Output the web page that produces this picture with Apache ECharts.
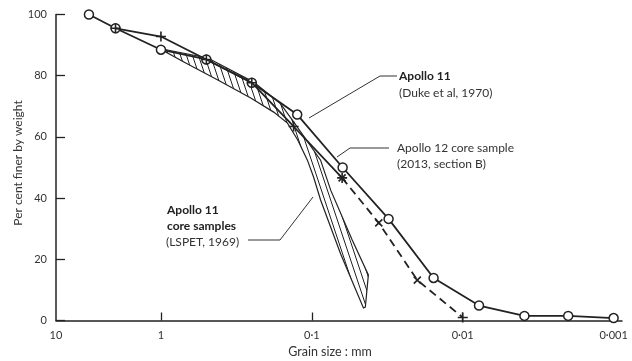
<!DOCTYPE html>
<html><head><meta charset="utf-8">
<script src="https://cdn.jsdelivr.net/npm/echarts@6/dist/echarts.min.js"></script>
<style>html,body{margin:0;background:#fff}#c{width:632px;height:361px}</style>
</head><body><div id="c"></div>
<script>
// Apollo 11 (Duke et al, 1970)
const apollo11Size = [3, 2, 1, 0.5, 0.25, 0.125, 0.0625, 0.031, 0.0156, 0.0078, 0.0039, 0.002, 0.001];
const apollo11Pct  = [100, 95.5, 88.5, 85.3, 77.7, 67.3, 50.0, 33.2, 13.9, 4.9, 1.5, 1.5, 0.8];
// Apollo 12 core sample (2013, section B) - solid part and dashed part
const apollo12SolidSize = [2, 1, 0.5, 0.25, 0.132, 0.063];
const apollo12SolidPct  = [95.5, 92.8, 85.3, 77.7, 63.4, 46.6];
const apollo12DashSize  = [0.063, 0.036, 0.02, 0.01];
const apollo12DashPct   = [46.6, 31.9, 13.2, 1.0];
// Apollo 11 core samples (LSPET, 1969) - hatched band (upper edge, then lower edge back)
const bandUpperSize = [1.0, 0.489, 0.243, 0.161, 0.132, 0.0875, 0.075, 0.054, 0.0422, 0.0442];
const bandUpperPct  = [88.8, 85.8, 77.9, 70.8, 64.9, 52.4, 42.6, 26.3, 14.9, 4.4];
const bandLowerSize = [0.0455, 0.0645, 0.0875, 0.0974, 0.107, 0.124, 0.145, 0.179, 0.254, 0.42, 0.705, 1.0];
const bandLowerPct  = [4.1, 21.8, 39.4, 46.9, 52.4, 59.0, 64.5, 68.1, 72.7, 78.6, 84.5, 88.6];
// axis ticks
const xTickValues = [4.96, 1, 0.1, 0.01, 0.001];
const xTickLabels = ['10', '1', '0·1', '0·01', '0·001'];

const FONT = 'Lato, "Open Sans", sans-serif';
const INK = '#222';
const TXT = '#333';

function pairs(a, b) { return a.map((v, i) => [v, b[i]]); }

// hatch pattern
const pc = document.createElement('canvas');
pc.width = 6; pc.height = 18;
const g = pc.getContext('2d');
g.strokeStyle = '#222'; g.lineWidth = 1;
for (let k = -1; k <= 1; k++) { g.beginPath(); g.moveTo(k * 6, 0); g.lineTo(k * 6 + 6, 18); g.stroke(); }

const plusPath = 'path://M4.2,0h1.6v10h-1.6zM0,4.2h10v1.6h-10z';

const chart = echarts.init(document.getElementById('c'));
chart.setOption({
  animation: false,
  backgroundColor: '#fff',
  textStyle: { fontFamily: FONT },
  grid: { left: 56, right: 10, top: 14.5, bottom: 40.5, containLabel: false, outerBoundsMode: 'none' },
  xAxis: {
    type: 'log', logBase: 10, inverse: true, min: 0.00088, max: 4.96,
    axisLine: { lineStyle: { color: INK, width: 1.5 } },
    splitLine: { show: false },
    minorTick: { show: false },
    axisTick: { inside: true, length: 8, customValues: [1, 0.1, 0.01], lineStyle: { color: INK, width: 1.3 } },
    axisLabel: {
      customValues: xTickValues, color: TXT, fontSize: 11, fontFamily: FONT, margin: 9,
      formatter: function (v) {
        for (let k = 0; k < xTickValues.length; k++) {
          if (Math.abs(Math.log10(v) - Math.log10(xTickValues[k])) < 0.01) return xTickLabels[k];
        }
        return '';
      }
    }
  },
  yAxis: {
    type: 'value', min: 0, max: 100, interval: 20,
    axisLine: { show: true, lineStyle: { color: INK, width: 1.5 } },
    splitLine: { show: false },
    axisTick: { show: true, inside: true, length: 9, lineStyle: { color: INK, width: 1.3 } },
    axisLabel: { color: TXT, fontSize: 11, fontFamily: FONT, margin: 9 }
  },
  graphic: [
    { type: 'text', x: 18, y: 163, rotation: Math.PI / 2, style: { text: 'Per cent finer by weight', fill: TXT, font: '12px ' + FONT, align: 'center', verticalAlign: 'middle' } },
    { type: 'text', x: 330, y: 352, style: { text: 'Grain size : mm', fill: TXT, font: '12.5px ' + FONT, align: 'center', verticalAlign: 'middle' } },
    { type: 'text', x: 399, y: 76, style: { text: 'Apollo 11', fill: '#222', font: 'bold 12px ' + FONT, align: 'left', verticalAlign: 'middle' } },
    { type: 'text', x: 399, y: 93, style: { text: '(Duke et al, 1970)', fill: TXT, font: '12px ' + FONT, align: 'left', verticalAlign: 'middle' } },
    { type: 'polyline', shape: { points: [[309, 118], [380, 76], [397, 76]] }, style: { stroke: '#333', lineWidth: 1, fill: null } },
    { type: 'text', x: 397, y: 148, style: { text: 'Apollo 12 core sample', fill: TXT, font: '12px ' + FONT, align: 'left', verticalAlign: 'middle' } },
    { type: 'text', x: 397, y: 164, style: { text: '(2013, section B)', fill: TXT, font: '12px ' + FONT, align: 'left', verticalAlign: 'middle' } },
    { type: 'polyline', shape: { points: [[337, 157], [350, 148], [389, 148]] }, style: { stroke: '#333', lineWidth: 1, fill: null } },
    { type: 'text', x: 167, y: 210, style: { text: 'Apollo 11', fill: '#222', font: 'bold 12px ' + FONT, align: 'left', verticalAlign: 'middle' } },
    { type: 'text', x: 167, y: 226, style: { text: 'core samples', fill: '#222', font: 'bold 12px ' + FONT, align: 'left', verticalAlign: 'middle' } },
    { type: 'text', x: 166, y: 242, style: { text: '(LSPET, 1969)', fill: TXT, font: '12px ' + FONT, align: 'left', verticalAlign: 'middle' } },
    { type: 'polyline', shape: { points: [[248, 240], [280, 240], [313, 197]] }, style: { stroke: '#333', lineWidth: 1, fill: null } }
  ],
  series: [
    {
      type: 'custom', coordinateSystem: 'cartesian2d', silent: true, z: 1,
      data: [[1, 50]],
      renderItem: function (params, api) {
        const pts = [];
        for (let i = 0; i < bandUpperSize.length; i++) pts.push(api.coord([bandUpperSize[i], bandUpperPct[i]]));
        for (let i = 0; i < bandLowerSize.length; i++) pts.push(api.coord([bandLowerSize[i], bandLowerPct[i]]));
        return { type: 'polygon', shape: { points: pts }, style: { fill: { image: pc, repeat: 'repeat' }, stroke: INK, lineWidth: 1.2 } };
      }
    },
    {
      type: 'line', z: 3, data: pairs(apollo11Size, apollo11Pct),
      symbol: 'circle', symbolSize: 9, showAllSymbol: true,
      lineStyle: { color: INK, width: 1.8 },
      itemStyle: { color: '#fff', borderColor: INK, borderWidth: 1.5 }
    },
    {
      type: 'line', z: 4, data: pairs(apollo12SolidSize, apollo12SolidPct),
      symbol: plusPath, symbolSize: 10, showAllSymbol: true,
      lineStyle: { color: INK, width: 1.8 },
      itemStyle: { color: INK, borderWidth: 0 }
    },
    {
      type: 'line', z: 4, data: pairs(apollo12DashSize, apollo12DashPct),
      symbol: plusPath, symbolSize: 10, showAllSymbol: true,
      symbolRotate: function (v) { return v[0] > 0.015 ? 45 : 0; },
      lineStyle: { color: INK, width: 1.8, type: [8, 5] },
      itemStyle: { color: INK, borderWidth: 0 }
    }
  ]
});
</script></body></html>
